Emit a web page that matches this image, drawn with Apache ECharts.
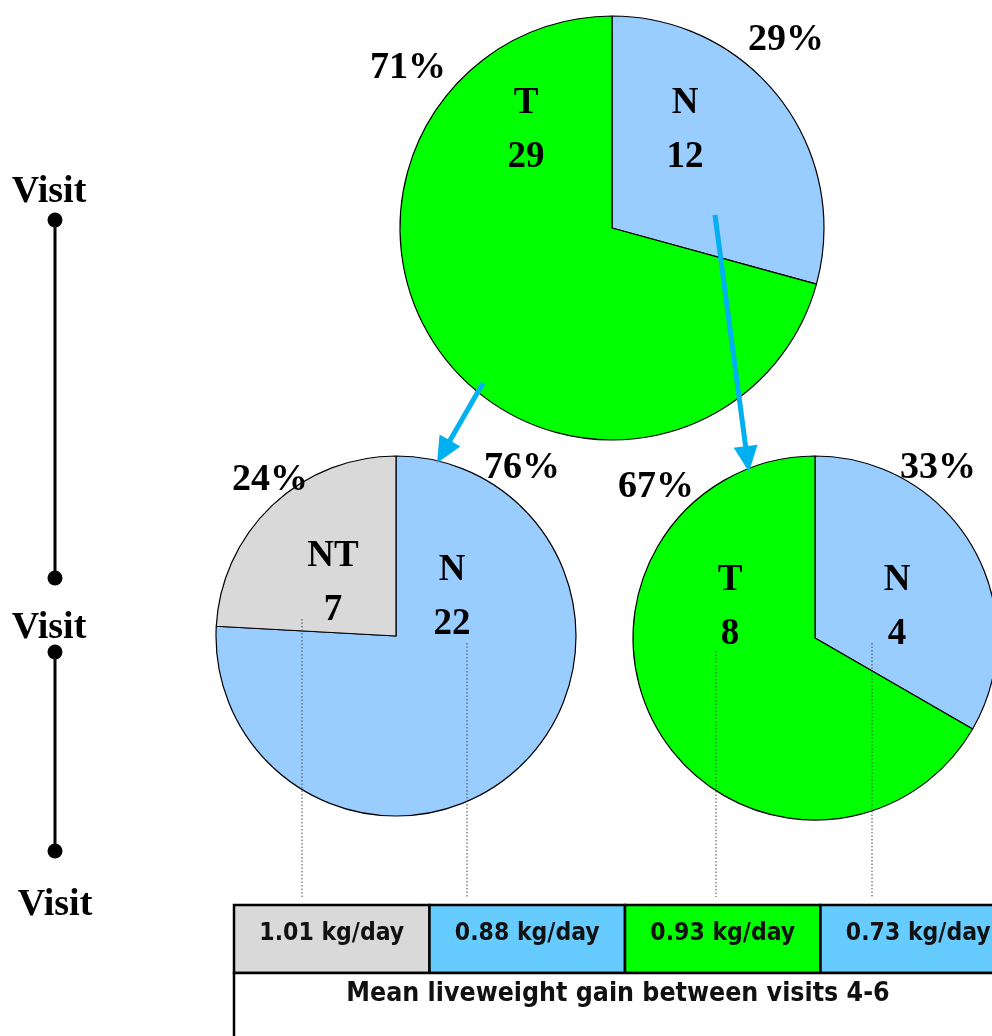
<!DOCTYPE html>
<html>
<head>
<meta charset="utf-8">
<script src="https://cdn.jsdelivr.net/npm/echarts@6/dist/echarts.min.js"></script>
<style>
  html, body { margin: 0; padding: 0; background: #fff; }
  #chart { width: 992px; height: 1036px; }
</style>
</head>
<body>
<div id="chart"></div>
<script>
// Herd status at each visit: counts per group
const topNames = ['N', 'T'];
const topValues = [12, 29];
const leftNames = ['N', 'NT'];
const leftValues = [22, 7];
const rightNames = ['N', 'T'];
const rightValues = [4, 8];

// Mean liveweight gain per subgroup (kg/day)
const gainGroups = ['NT', 'N', 'T', 'N'];
const gainValues = [1.01, 0.88, 0.93, 0.73];
const gainUnit = 'kg/day';
const tableTitle = 'Mean liveweight gain between visits 4-6';
const visitLabels = ['Visit', 'Visit', 'Visit'];

const sliceColors = { T: '#00FF00', N: '#99CCFF', NT: '#D9D9D9' };
const cellColors = { T: '#00FF00', N: '#66CCFF', NT: '#D9D9D9' };
const arrowColor = '#00B0F0';
const serif = '"Liberation Serif", "Times New Roman", serif';
const sans = '"DejaVu Sans Condensed", "DejaVu Sans", sans-serif';

const chart = echarts.init(document.getElementById('chart'), null, { renderer: 'canvas' });

// Two series per pie: the coloured slices with group/count labels, and a
// transparent overlay carrying the percentage labels.
function pieSeries(names, values, center, radius, innerPos, pctPos) {
  const data = names.map((n, i) => ({
    name: n, value: values[i],
    itemStyle: { color: sliceColors[n] }
  }));
  const common = {
    type: 'pie', center: center, radius: radius,
    startAngle: 90, clockwise: true, avoidLabelOverlap: false,
    animation: false, silent: true, percentPrecision: 0,
    labelLine: { show: false }, emphasis: { disabled: true }
  };
  return [
    Object.assign({}, common, {
      data: data,
      itemStyle: { borderColor: '#000', borderWidth: 1.2 },
      label: {
        show: true, position: 'inside',
        formatter: p => p.name + '\n' + p.value,
        fontFamily: serif, fontWeight: 'bold', fontSize: 37,
        lineHeight: 54, color: '#000'
      },
      labelLayout: p => ({ x: innerPos[p.dataIndex][0], y: innerPos[p.dataIndex][1], align: 'center', verticalAlign: 'middle' })
    }),
    Object.assign({}, common, {
      data: names.map((n, i) => ({ name: n, value: values[i] })),
      itemStyle: { color: 'rgba(0,0,0,0)', borderWidth: 0 },
      label: {
        show: true, position: 'inside',
        formatter: p => p.percent + '%',
        fontFamily: serif, fontWeight: 'bold', fontSize: 38, color: '#000'
      },
      labelLayout: p => ({ x: pctPos[p.dataIndex][0], y: pctPos[p.dataIndex][1], align: 'center', verticalAlign: 'middle' })
    })
  ];
}

function arrow(x1, y1, x2, y2) {
  const a = Math.atan2(y2 - y1, x2 - x1);
  const hl = 26, hw = 12;
  const bx = x2 - hl * Math.cos(a), by = y2 - hl * Math.sin(a);
  const px = -Math.sin(a) * hw, py = Math.cos(a) * hw;
  return [
    { type: 'line', shape: { x1: x1, y1: y1, x2: bx + 2 * Math.cos(a), y2: by + 2 * Math.sin(a) },
      style: { stroke: arrowColor, lineWidth: 5 }, z: 10 },
    { type: 'polygon', shape: { points: [[x2, y2], [bx + px, by + py], [bx - px, by - py]] },
      style: { fill: arrowColor }, z: 10 }
  ];
}

const graphics = [];

// Timeline on the left
const dots = [220, 578, 652, 851];
graphics.push({ type: 'line', shape: { x1: 55, y1: dots[0], x2: 55, y2: dots[1] }, style: { stroke: '#000', lineWidth: 3 } });
graphics.push({ type: 'line', shape: { x1: 55, y1: dots[2], x2: 55, y2: dots[3] }, style: { stroke: '#000', lineWidth: 3 } });
dots.forEach(y => graphics.push({ type: 'circle', shape: { cx: 55, cy: y, r: 7.5 }, style: { fill: '#000' } }));
const visitPos = [[49, 192], [49, 628], [55, 905]];
visitLabels.forEach((t, i) => graphics.push({
  type: 'text', x: visitPos[i][0], y: visitPos[i][1],
  style: { text: t, fontFamily: serif, fontWeight: 'bold', fontSize: 38, fill: '#000', align: 'center', verticalAlign: 'middle' }
}));

// Arrows between visits
arrow(483, 383, 437, 463).forEach(g => graphics.push(g));
arrow(715, 215, 749, 472).forEach(g => graphics.push(g));

// Dotted leaders from the slices to the table
[[302, 619], [467, 643], [716, 651], [872, 643]].forEach(p => graphics.push({
  type: 'line', shape: { x1: p[0], y1: p[1], x2: p[0], y2: 897 },
  style: { stroke: '#444', lineWidth: 1, lineDash: [1.5, 2] }, z: 5
}));

// Gain table
const tableLeft = 234, colW = 195.5, rowTop = 905, rowH = 68;
gainValues.forEach((v, i) => {
  const x = tableLeft + i * colW;
  graphics.push({ type: 'rect', shape: { x: x, y: rowTop, width: colW, height: rowH },
    style: { fill: cellColors[gainGroups[i]], stroke: '#000', lineWidth: 2.5 } });
  graphics.push({ type: 'text', x: x + colW / 2, y: rowTop + 29,
    style: { text: v.toFixed(2) + ' ' + gainUnit, fontFamily: sans, fontWeight: 'bold', fontSize: 24.5,
      fill: '#111', align: 'center', verticalAlign: 'middle' }, z: 3 });
});
graphics.push({ type: 'rect', shape: { x: tableLeft, y: rowTop + rowH, width: colW * 4, height: 100 },
  style: { fill: '#fff', stroke: '#000', lineWidth: 2.5 } });
graphics.push({ type: 'text', x: tableLeft + colW * 2 - 7, y: rowTop + rowH + 21,
  style: { text: tableTitle, fontFamily: sans, fontWeight: 'bold', fontSize: 26.5, fill: '#111',
    align: 'center', verticalAlign: 'middle' }, z: 3 });

const series = []
  .concat(pieSeries(topNames, topValues, [612, 228], 212,
    [[685, 130], [526, 130]], [[786, 40], [408, 68]]))
  .concat(pieSeries(leftNames, leftValues, [396, 636], 180,
    [[452, 597], [333, 583]], [[522, 468], [270, 480]]))
  .concat(pieSeries(rightNames, rightValues, [815, 638], 182,
    [[897, 607], [730, 607]], [[938, 468], [656, 487]]));

chart.setOption({
  animation: false,
  backgroundColor: '#fff',
  series: series,
  graphic: { elements: graphics }
});
</script>
</body>
</html>
